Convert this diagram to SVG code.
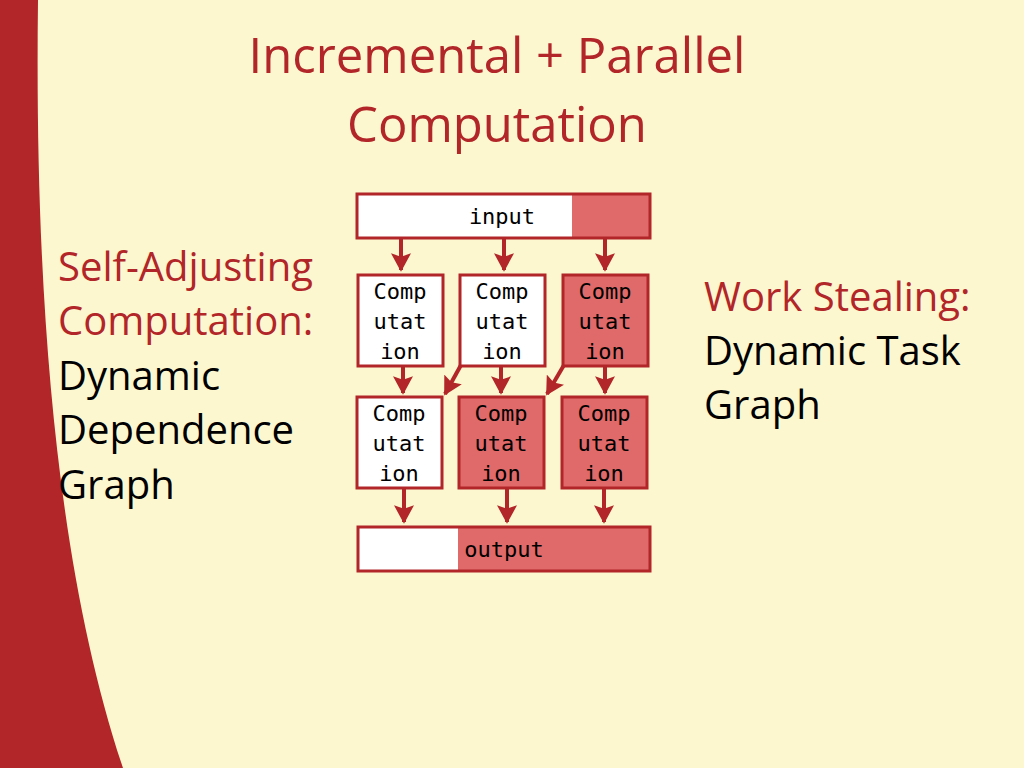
<svg xmlns="http://www.w3.org/2000/svg" width="1024" height="768" viewBox="0 0 1024 768">
<defs>
<style>
.b{stroke:#b22528;stroke-width:3}
.w{fill:#fff}.r{fill:#e06a6a}
.m{font-family:"DejaVu Sans Mono",monospace;font-size:22px;fill:#000;text-anchor:middle}
.t{font-family:"Open Sans",sans-serif;font-size:40px}
.h{font-family:"Open Sans",sans-serif;font-size:49px;fill:#b22528;text-anchor:middle}
.c line{stroke:#b22528;stroke-width:4}
</style>
<marker id="a" viewBox="0 0 12 12" refX="10" refY="6" markerWidth="5" markerHeight="5" orient="auto" markerUnits="strokeWidth">
<path d="M0,0 L11,6 L0,12 L2,6 Z" fill="#b22528"/>
</marker>
</defs>
<rect width="1024" height="768" fill="#fdf7d0"/>
<path d="M0,0 L38,0 C34,320 60,580 123,768 L0,768 Z" fill="#b22528"/>
<text x="497" y="73" class="h">Incremental + Parallel</text>
<text x="497" y="142" class="h">Computation</text>
<g id="left" class="t">
<text x="58" y="281" fill="#b22528">Self-Adjusting</text>
<text x="58" y="335" fill="#b22528">Computation:</text>
<text x="58" y="390">Dynamic</text>
<text x="58" y="444">Dependence</text>
<text x="58" y="499">Graph</text>
</g>
<g id="right" class="t">
<text x="704" y="311" fill="#b22528">Work Stealing:</text>
<text x="704" y="365">Dynamic Task</text>
<text x="704" y="419">Graph</text>
</g>
<g id="input"><rect x="357" y="194" width="293" height="44" class="r"/><rect x="357" y="194" width="215" height="44" class="w"/><rect x="357" y="194" width="293" height="44" fill="none" class="b"/><text x="502" y="224" class="m">input</text></g>
<g id="output"><rect x="358" y="527" width="292" height="44" class="r"/><rect x="358" y="527" width="100" height="44" class="w"/><rect x="358" y="527" width="292" height="44" fill="none" class="b"/><text x="504" y="557" class="m">output</text></g>
<g id="n1"><rect x="358" y="275" width="85" height="91" class="w b"/><text class="m" x="400" y="299">Comp</text><text class="m" x="400" y="329">utat</text><text class="m" x="400" y="359">ion</text></g>
<g id="n2"><rect x="460" y="275" width="85" height="91" class="w b"/><text class="m" x="502" y="299">Comp</text><text class="m" x="502" y="329">utat</text><text class="m" x="502" y="359">ion</text></g>
<g id="n3"><rect x="563" y="275" width="85" height="91" class="r b"/><text class="m" x="605" y="299">Comp</text><text class="m" x="605" y="329">utat</text><text class="m" x="605" y="359">ion</text></g>
<g id="n4"><rect x="357" y="397" width="85" height="91" class="w b"/><text class="m" x="399" y="421">Comp</text><text class="m" x="399" y="451">utat</text><text class="m" x="399" y="481">ion</text></g>
<g id="n5"><rect x="459" y="397" width="85" height="91" class="r b"/><text class="m" x="501" y="421">Comp</text><text class="m" x="501" y="451">utat</text><text class="m" x="501" y="481">ion</text></g>
<g id="n6"><rect x="562" y="397" width="85" height="91" class="r b"/><text class="m" x="604" y="421">Comp</text><text class="m" x="604" y="451">utat</text><text class="m" x="604" y="481">ion</text></g>
<g class="c">
<line x1="401" y1="239" x2="401" y2="270" marker-end="url(#a)"/>
<line x1="504" y1="239" x2="504" y2="270" marker-end="url(#a)"/>
<line x1="605" y1="239" x2="605" y2="270" marker-end="url(#a)"/>
<line x1="403" y1="367" x2="403" y2="393" marker-end="url(#a)"/>
<line x1="501" y1="367" x2="501" y2="393" marker-end="url(#a)"/>
<line x1="605" y1="367" x2="605" y2="393" marker-end="url(#a)"/>
<line x1="461" y1="365" x2="445" y2="394" marker-end="url(#a)"/>
<line x1="564" y1="365" x2="547" y2="394" marker-end="url(#a)"/>
<line x1="404" y1="489" x2="404" y2="522" marker-end="url(#a)"/>
<line x1="507" y1="489" x2="507" y2="522" marker-end="url(#a)"/>
<line x1="604" y1="489" x2="604" y2="522" marker-end="url(#a)"/>
</g>
</svg>
